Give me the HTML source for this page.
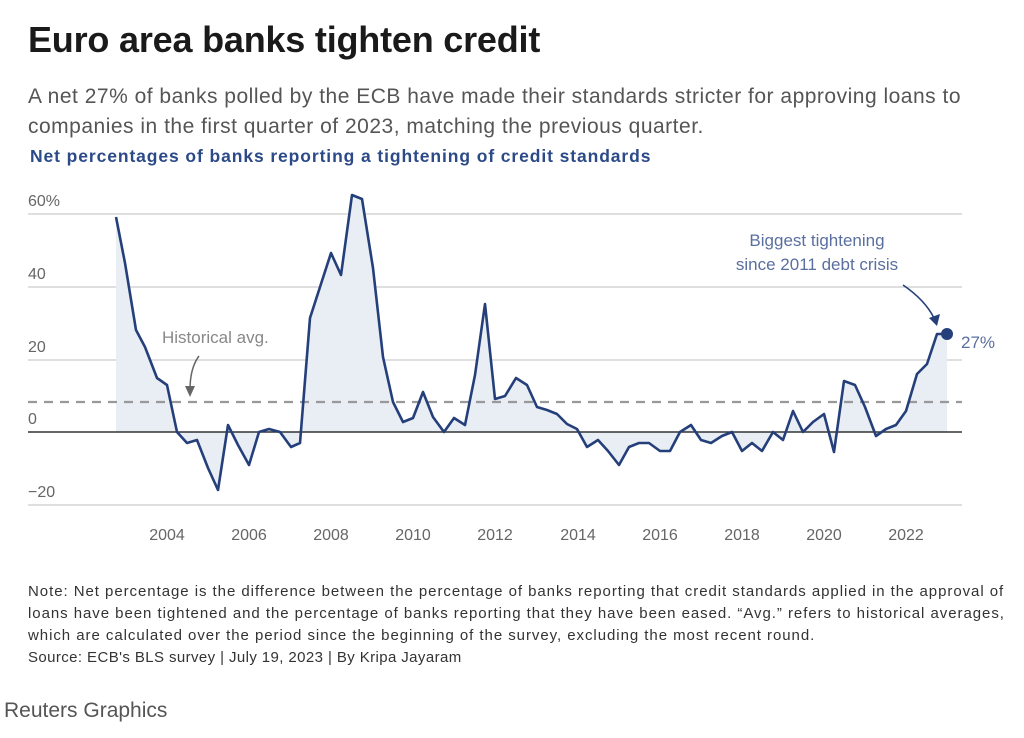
<!DOCTYPE html><html><head><style>
body{margin:0;width:1024px;height:738px;background:#fff;font-family:"Liberation Sans",sans-serif;position:relative;overflow:hidden}
.t{position:absolute;white-space:nowrap}
</style></head><body>
<div class="t" style="left:28px;top:19px;font-size:36px;font-weight:bold;color:#1a1a1a;letter-spacing:-0.2px">Euro area banks tighten credit</div>
<div class="t" style="left:28px;top:82px;font-size:21px;color:#555;line-height:30px;letter-spacing:0.5px">A net 27% of banks polled by the ECB have made their standards stricter for approving loans to<br>companies in the first quarter of 2023, matching the previous quarter.</div>
<div class="t" style="left:30px;top:146px;font-size:17.5px;font-weight:bold;color:#2b4a87;letter-spacing:0.9px">Net percentages of banks reporting a tightening of credit standards</div>
<svg width="1024" height="738" style="position:absolute;left:0;top:0" font-family="Liberation Sans, sans-serif">
<g stroke="#ccc" stroke-width="1.2">
<line x1="28" x2="962" y1="214" y2="214"/><line x1="28" x2="962" y1="287" y2="287"/><line x1="28" x2="962" y1="360" y2="360"/><line x1="28" x2="962" y1="505" y2="505"/></g>
<polygon fill="#e9edf4" points="116,432 116,217 125,263 136,330 145,347 157,378 167,385 177,432 187,443 197,440 208,468 218,490 228,425 238,445 249,465 259,432 269,429 280,432 291,447 300,443 310,318 320,287 331,253 341,275 352,195 362,199 373,268 383,357 393,402 403,422 413,418 423,392 433,417 444,432 454,418 465,425 475,375 485,304 495,399 505,396 516,378 527,385 537,407 547,410 557,414 567,424 577,429 587,447 598,440 608,451 619,465 629,447 639,443 649,443 660,451 670,451 680,432 691,425 701,440 711,443 722,436 732,432 742,451 752,443 762,451 773,432 783,440 793,411 803,432 813,422 824,414 834,452 844,381 855,385 865,407 876,436 886,429 896,425 906,411 917,374 927,364 937,334 947,334 947,432"/>
<line x1="28" x2="962" y1="402" y2="402" stroke="#999" stroke-width="2.2" stroke-dasharray="9,7"/>
<line x1="28" x2="962" y1="432" y2="432" stroke="#333" stroke-width="1.5"/>
<polyline fill="none" stroke="#243f7a" stroke-width="2.6" stroke-linejoin="round" points="116,217 125,263 136,330 145,347 157,378 167,385 177,432 187,443 197,440 208,468 218,490 228,425 238,445 249,465 259,432 269,429 280,432 291,447 300,443 310,318 320,287 331,253 341,275 352,195 362,199 373,268 383,357 393,402 403,422 413,418 423,392 433,417 444,432 454,418 465,425 475,375 485,304 495,399 505,396 516,378 527,385 537,407 547,410 557,414 567,424 577,429 587,447 598,440 608,451 619,465 629,447 639,443 649,443 660,451 670,451 680,432 691,425 701,440 711,443 722,436 732,432 742,451 752,443 762,451 773,432 783,440 793,411 803,432 813,422 824,414 834,452 844,381 855,385 865,407 876,436 886,429 896,425 906,411 917,374 927,364 937,334 947,334"/>
<circle cx="947" cy="334" r="6" fill="#243f7a"/>
<path d="M903,285 Q925,300 934,318" fill="none" stroke="#243f7a" stroke-width="1.6"/>
<polygon points="937,326 929,318 940,314" fill="#243f7a"/>
<path d="M199,356 Q190,368 190,390" fill="none" stroke="#666" stroke-width="1.5"/>
<polygon points="190,397 185,386 195,386" fill="#666"/>
<g fill="#666" font-size="16">
<text x="28" y="206">60%</text><text x="28" y="279">40</text><text x="28" y="352">20</text><text x="28" y="424">0</text><text x="28" y="497">−20</text>
<g text-anchor="middle"><text x="167" y="540">2004</text><text x="249" y="540">2006</text><text x="331" y="540">2008</text><text x="413" y="540">2010</text><text x="495" y="540">2012</text><text x="578" y="540">2014</text><text x="660" y="540">2016</text><text x="742" y="540">2018</text><text x="824" y="540">2020</text><text x="906" y="540">2022</text></g>
</g>
<text x="162" y="343" font-size="17" fill="#888">Historical avg.</text>
<g fill="#5a6fa0" font-size="17" text-anchor="middle"><text x="817" y="246">Biggest tightening</text><text x="817" y="270">since 2011 debt crisis</text></g>
<text x="961" y="348" font-size="17" fill="#5a6fa0">27%</text>
</svg>
<div class="t" style="left:28px;top:581px;font-size:15px;color:#333;line-height:22px;letter-spacing:0.95px">Note: Net percentage is the difference between the percentage of banks reporting that credit standards applied in the approval of<br>loans have been tightened and the percentage of banks reporting that they have been eased. “Avg.” refers to historical averages,<br>which are calculated over the period since the beginning of the survey, excluding the most recent round.<br><span style="letter-spacing:0.4px">Source: ECB's BLS survey | July 19, 2023 | By Kripa Jayaram</span></div>
<div class="t" style="left:4px;top:699px;font-size:21px;color:#555">Reuters Graphics</div>
</body></html>
